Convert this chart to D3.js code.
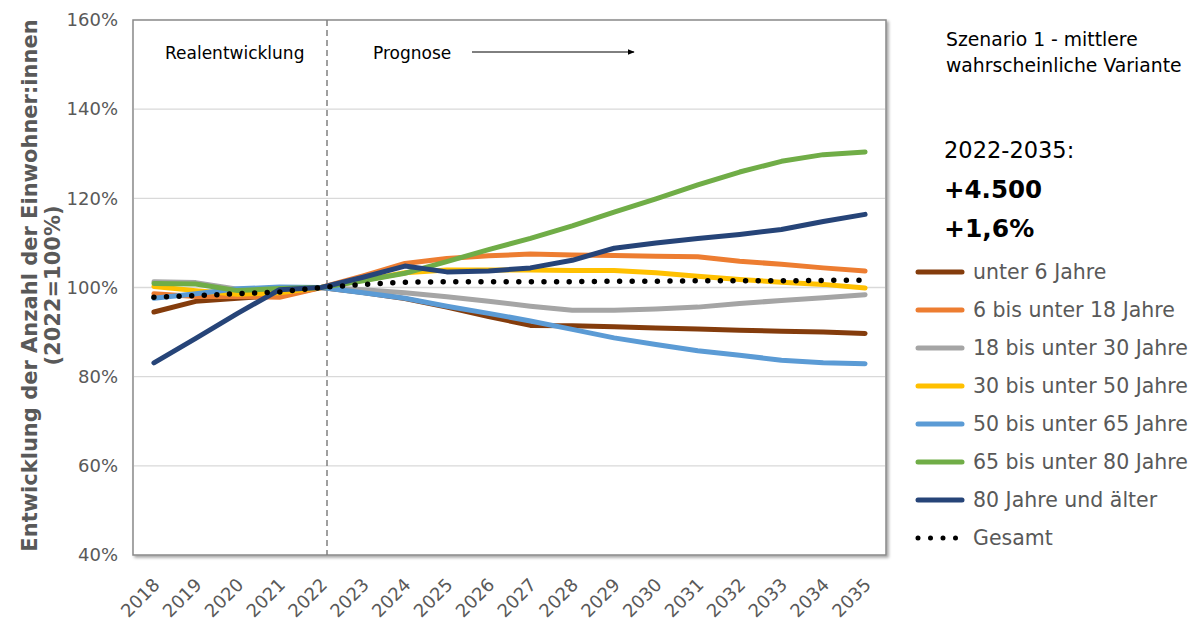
<!DOCTYPE html>
<html>
<head>
<meta charset="utf-8">
<script src="https://cdn.jsdelivr.net/npm/d3@7"></script>
<style>
  html, body { margin: 0; padding: 0; background: #fff; }
  svg { display: block; font-family: Tahoma, "DejaVu Sans", Verdana, sans-serif; }
</style>
</head>
<body>
<svg id="chart" width="1194" height="621"></svg>
<script>
// Years on the x axis
const years = ["2018","2019","2020","2021","2022","2023","2024","2025","2026",
               "2027","2028","2029","2030","2031","2032","2033","2034","2035"];

// Index values per age group (2022 = 100 %)
const unter6      = [94.5, 96.9, 97.6, 98.2, 100, 98.9, 97.5, 95.6, 93.5, 91.5, 91.4, 91.2, 90.9, 90.7, 90.4, 90.2, 90.0, 89.7];
const von6bis18   = [98.6, 98.0, 98.0, 97.8, 100, 102.6, 105.4, 106.5, 107.1, 107.5, 107.3, 107.2, 107.0, 106.9, 105.9, 105.2, 104.4, 103.7];
const von18bis30  = [101.3, 101.1, 99.6, 99.8, 100, 99.5, 98.8, 97.9, 96.9, 95.8, 94.9, 94.9, 95.2, 95.6, 96.4, 97.1, 97.7, 98.4];
const von30bis50  = [100.2, 99.3, 98.5, 98.8, 100, 101.6, 103.3, 103.9, 103.9, 103.9, 103.8, 103.8, 103.3, 102.5, 101.8, 101.2, 100.7, 99.9];
const von50bis65  = [97.6, 98.6, 99.7, 100.1, 100, 98.8, 97.6, 95.8, 94.2, 92.5, 90.6, 88.7, 87.2, 85.8, 84.8, 83.7, 83.1, 82.9];
const von65bis80  = [100.9, 100.8, 99.3, 99.8, 100, 101.5, 103.2, 105.8, 108.5, 111.0, 113.8, 116.9, 119.9, 123.0, 125.9, 128.3, 129.8, 130.4];
const ab80        = [83.1, 88.6, 94.2, 99.5, 100, 102.3, 104.8, 103.5, 103.7, 104.4, 106.1, 108.8, 110.0, 111.0, 111.9, 113.0, 114.8, 116.4];
const gesamt      = [97.8, 98.2, 98.6, 99.0, 100, 100.7, 101.2, 101.3, 101.3, 101.3, 101.3, 101.4, 101.4, 101.5, 101.5, 101.5, 101.6, 101.6];

const seriesNames = ["unter 6 Jahre", "6 bis unter 18 Jahre", "18 bis unter 30 Jahre",
                     "30 bis unter 50 Jahre", "50 bis unter 65 Jahre", "65 bis unter 80 Jahre",
                     "80 Jahre und älter", "Gesamt"];
const seriesColors = ["#843C0C", "#ED7D31", "#A5A5A5", "#FFC000", "#5B9BD5", "#70AD47", "#264478", "#000000"];
const seriesValues = [unter6, von6bis18, von18bis30, von30bis50, von50bis65, von65bis80, ab80, gesamt];

const yTicks = [40, 60, 80, 100, 120, 140, 160];

const svg = d3.select("#chart");
const plot = { left: 133, right: 886, top: 20, bottom: 555 };

const x = d3.scaleBand().domain(years).range([plot.left, plot.right]);
const xc = d => x(d) + x.bandwidth() / 2;
const y = d3.scaleLinear().domain([40, 160]).range([plot.bottom, plot.top]);

// soft shadow for the plot frame
const defs = svg.append("defs");
const f = defs.append("filter").attr("id", "shadow").attr("x", "-5%").attr("y", "-5%").attr("width", "110%").attr("height", "110%");
f.append("feDropShadow").attr("dx", 2).attr("dy", 2).attr("stdDeviation", 1.5).attr("flood-color", "#000").attr("flood-opacity", 0.35);
defs.append("marker").attr("id", "arrow").attr("viewBox", "0 0 10 10")
  .attr("refX", 9).attr("refY", 5).attr("markerWidth", 7).attr("markerHeight", 7)
  .attr("orient", "auto")
  .append("path").attr("d", "M0,1 L10,5 L0,9 Z").attr("fill", "#000");

svg.append("rect")
  .attr("x", plot.left).attr("y", plot.top)
  .attr("width", plot.right - plot.left).attr("height", plot.bottom - plot.top)
  .attr("fill", "#fff").attr("stroke", "#898989").attr("stroke-width", 1.5)
  .attr("filter", "url(#shadow)");

// horizontal gridlines
svg.append("g").selectAll("line").data(yTicks.slice(1, -1)).join("line")
  .attr("x1", plot.left + 1).attr("x2", plot.right - 1)
  .attr("y1", d => y(d)).attr("y2", d => y(d))
  .attr("stroke", "#d9d9d9").attr("stroke-width", 1.3);

// y axis labels
const yAxis = d3.axisLeft(y).tickValues(yTicks).tickFormat(d => d + "%").tickSize(0).tickPadding(15);
const gy = svg.append("g").attr("transform", `translate(${plot.left},0)`).call(yAxis);
gy.select(".domain").remove();
gy.selectAll("text").attr("fill", "#595959").style("font-size", "18px")
  .style("font-family", 'Tahoma, "DejaVu Sans", Verdana, sans-serif');

// x axis labels
const xAxis = d3.axisBottom(x).tickSize(0).tickPadding(0);
const gx = svg.append("g").attr("transform", `translate(0,${plot.bottom})`).call(xAxis);
gx.select(".domain").remove();
gx.selectAll("text")
  .attr("fill", "#595959").style("font-size", "18px")
  .style("font-family", 'Tahoma, "DejaVu Sans", Verdana, sans-serif')
  .attr("text-anchor", "end").attr("dy", null).attr("y", 0)
  .attr("transform", "translate(7,31) rotate(-45)");

// y axis title
const yt = svg.append("text")
  .attr("transform", `translate(37,${(plot.top + plot.bottom) / 2 - 2}) rotate(-90)`)
  .attr("text-anchor", "middle").attr("fill", "#595959")
  .style("font-size", "21px").style("font-weight", "bold");
yt.append("tspan").attr("x", 0).attr("dy", 0).text("Entwicklung der Anzahl der Einwohner:innen");
yt.append("tspan").attr("x", 0).attr("dy", 23).text("(2022=100%)");

// separator between observed and projected years
svg.append("line")
  .attr("x1", 327).attr("x2", 327).attr("y1", plot.top).attr("y2", plot.bottom)
  .attr("stroke", "#808080").attr("stroke-width", 1.5).attr("stroke-dasharray", "6,4");

svg.append("text").attr("x", 165).attr("y", 59).attr("fill", "#000")
  .style("font-size", "17px").text("Realentwicklung");
svg.append("text").attr("x", 373).attr("y", 59).attr("fill", "#000")
  .style("font-size", "17px").text("Prognose");
svg.append("line").attr("x1", 472).attr("x2", 634).attr("y1", 52).attr("y2", 52)
  .attr("stroke", "#000").attr("stroke-width", 1).attr("marker-end", "url(#arrow)");

// series lines
const line = d3.line().x((d, i) => xc(years[i])).y(d => y(d));
seriesValues.forEach((vals, k) => {
  const isTotal = k === seriesValues.length - 1;
  svg.append("path").datum(vals)
    .attr("d", line).attr("fill", "none")
    .attr("stroke", seriesColors[k])
    .attr("stroke-width", isTotal ? 5.5 : 5)
    .attr("stroke-linecap", "round").attr("stroke-linejoin", "round")
    .attr("stroke-dasharray", isTotal ? "0 12.6" : null);
});

// notes on the right
const note = svg.append("g").attr("fill", "#000");
note.append("text").attr("x", 946).attr("y", 46).style("font-size", "18.8px").text("Szenario 1 - mittlere");
note.append("text").attr("x", 946).attr("y", 72).style("font-size", "18.8px").text("wahrscheinliche Variante");
note.append("text").attr("x", 944).attr("y", 158).style("font-size", "22.5px").text("2022-2035:");
note.append("text").attr("x", 944).attr("y", 198).style("font-size", "24.5px").style("font-weight", "bold").text("+4.500");
note.append("text").attr("x", 944).attr("y", 237).style("font-size", "25px").style("font-weight", "bold").text("+1,6%");

// legend
const legend = svg.append("g").selectAll("g").data(seriesNames).join("g")
  .attr("transform", (d, i) => `translate(918,${272 + i * 38})`);
legend.append("line")
  .attr("x1", 0).attr("x2", 44).attr("y1", 0).attr("y2", 0)
  .attr("stroke", (d, i) => seriesColors[i])
  .attr("stroke-width", 5)
  .attr("stroke-linecap", "round")
  .attr("stroke-dasharray", (d, i) => i === 7 ? "0 12.5" : null);
legend.append("text").attr("x", 55).attr("y", 7)
  .attr("fill", "#595959").style("font-size", "20.5px").text(d => d);
</script>
</body>
</html>
